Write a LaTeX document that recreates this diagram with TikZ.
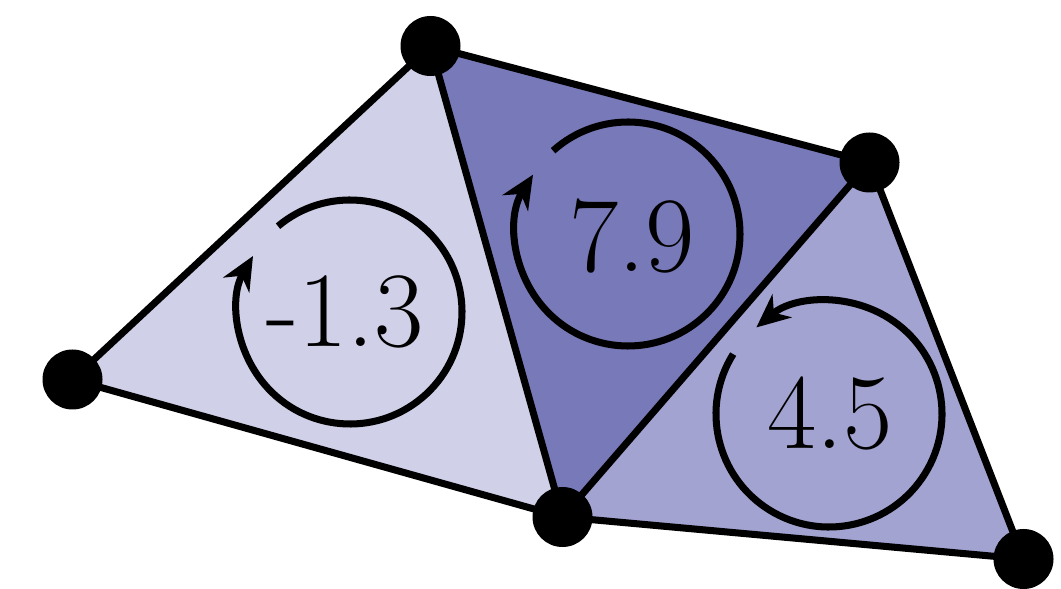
\documentclass[tikz,border=0pt]{standalone}
\usetikzlibrary{arrows.meta}
\definecolor{facelight}{HTML}{D0D0E8}
\definecolor{facedark}{HTML}{7879B8}
\definecolor{facemid}{HTML}{A2A3D0}

\begin{document}
\begin{tikzpicture}[>={Stealth[length=19pt, width=17pt, inset=6pt]},
  vertex/.style={circle, fill=black, inner sep=0pt, minimum size=1.2cm},
  edge/.style={line width=4pt, line join=round},
  spin/.style={line width=4pt, ->},
  value/.style={font=\fontsize{61}{61}\selectfont, inner sep=0pt}]

\useasboundingbox (0,0) rectangle (21.22,11.78);

% Mesh corners
\coordinate (pA) at (1.45,4.19);
\coordinate (pB) at (8.61,10.86);
\coordinate (pC) at (17.39,8.53);
\coordinate (pD) at (11.25,1.44);
\coordinate (pE) at (20.47,0.60);

% Faces
\fill[facelight] (pA) -- (pB) -- (pD) -- cycle;
\fill[facedark] (pB) -- (pC) -- (pD) -- cycle;
\fill[facemid] (pC) -- (pE) -- (pD) -- cycle;

% Edges
\draw[edge] (pA) -- (pB) -- (pC) -- (pE) -- (pD) -- cycle;
\draw[edge] (pB) -- (pD) -- (pC);

% Circulation on each face
\coordinate (cL) at (7.0,5.54);
\coordinate (cM) at (12.56,7.10);
\coordinate (cR) at (16.58,3.50);
\draw[spin] ([shift={(130:2.24)}]cL) arc[start angle=130, end angle=-210, radius=2.24];
\draw[spin] ([shift={(132:2.24)}]cM) arc[start angle=132, end angle=-212, radius=2.24];
\draw[spin] ([shift={(148:2.26)}]cR) arc[start angle=148, end angle=490, radius=2.26];

\node[value] (vL) at (6.9,5.54) {-1.3};
\node[value] (vM) at (12.64,7.06) {7.9};
\node[value] (vR) at (16.6,3.5) {4.5};

% Vertices
\foreach \p in {A,B,C,D,E}
  \node[vertex] (n\p) at (p\p) {};

\end{tikzpicture}
\end{document}
